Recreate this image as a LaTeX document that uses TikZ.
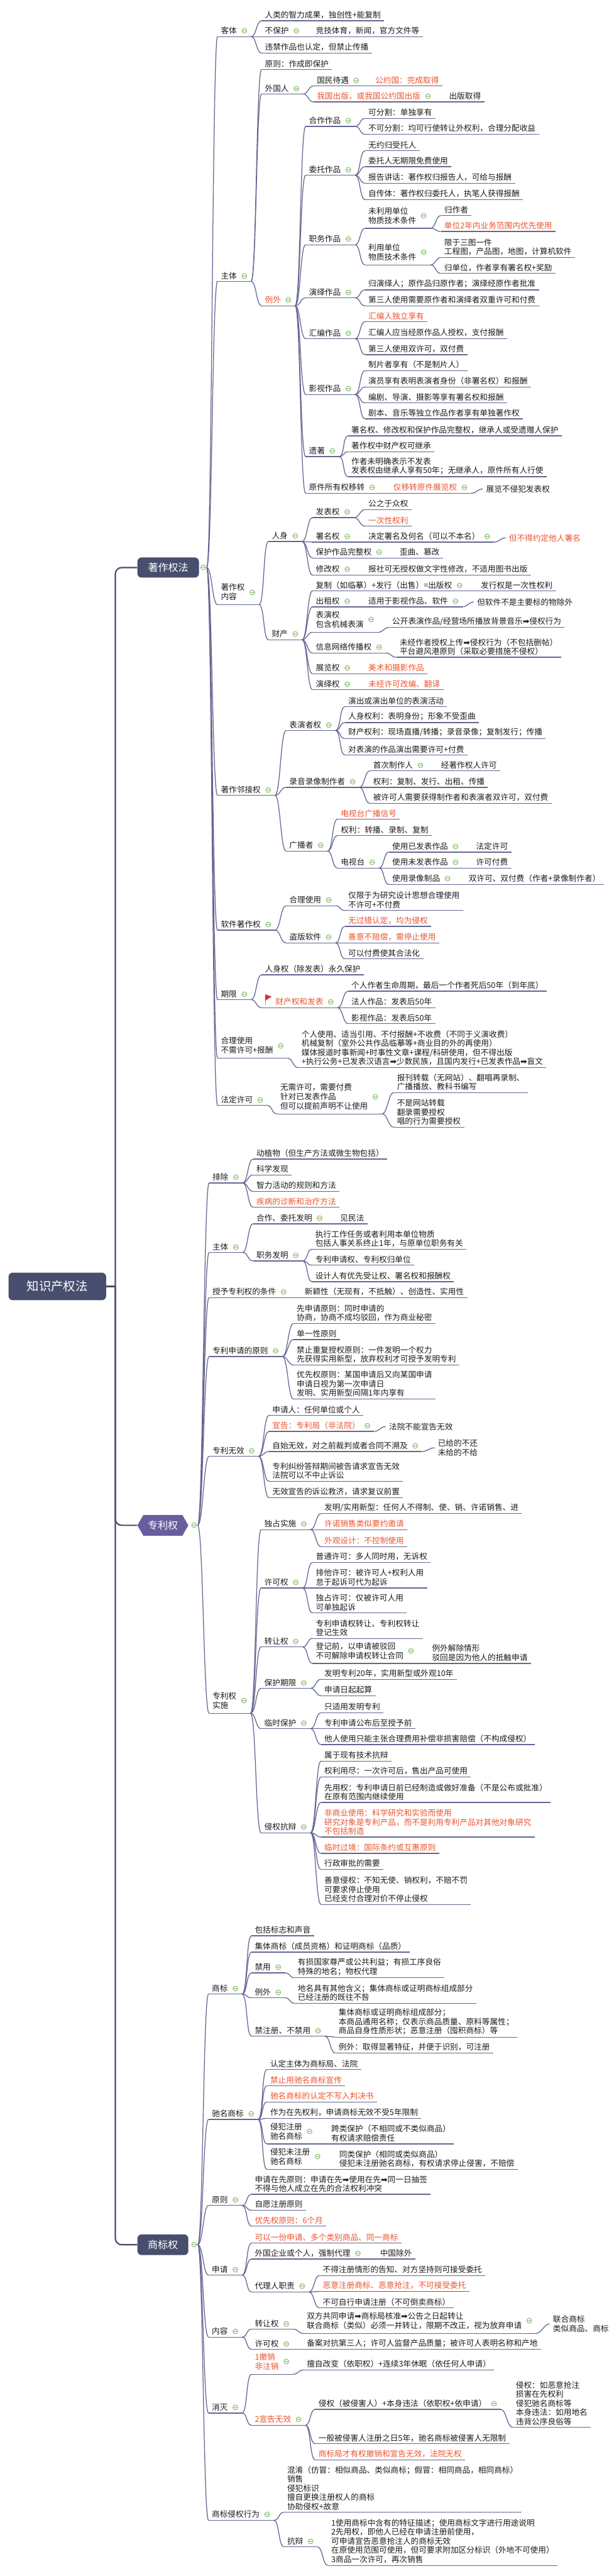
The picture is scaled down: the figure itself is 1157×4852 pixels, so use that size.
\documentclass[tikz,border=0pt]{standalone}
\usepackage{fontspec}
\setmainfont{Noto Sans CJK SC}
\newfontfamily\symfont{DejaVu Sans}
\usetikzlibrary{shapes.symbols}

\definecolor{navyc}{RGB}{72,78,110}
\definecolor{hexc}{RGB}{103,94,158}
\definecolor{linec}{RGB}{100,102,146}
\definecolor{hotred}{RGB}{234,84,45}
\definecolor{inkc}{RGB}{28,28,28}
\definecolor{foldgreen}{RGB}{112,176,82}
\definecolor{flagred}{RGB}{222,45,45}

\newcommand\txtsz{\fontsize{7.5pt}{8.6pt}\selectfont}
\newcommand\hubsz{\fontsize{9.5pt}{11pt}\selectfont}
\newcommand\rootsz{\fontsize{11.5pt}{13pt}\selectfont}
\newcommand\foldmk{\hspace{4pt}{\symfont\color{foldgreen}⊖}}
\newcommand\twol[1]{\begin{tabular}{@{}l@{}}#1\end{tabular}}
\newcommand\rarr{{\symfont ➡}}

\begin{document}
\begin{tikzpicture}[
  x=0.5pt, y=-0.5pt,
  hub/.style={rounded corners=4pt, fill=navyc, text=white, font=\hubsz, inner sep=3pt},
  hexa/.style={shape=signal, signal to=west and east, signal pointer angle=120, fill=hexc, text=white, font=\hubsz, inner sep=3pt},
  uline/.style={draw=linec, line width=0.75pt},
  topic/.style={anchor=south west, inner xsep=3pt, inner ysep=1.8pt, font=\txtsz, text=inkc, align=left,
    append after command={(\tikzlastnode.south west) edge[uline] (\tikzlastnode.south east)}},
  aside/.style={anchor=west, inner xsep=3pt, inner ysep=1pt, font=\txtsz, text=inkc, align=left},
  hot/.style={text=hotred},
  fold/.style={inner sep=0pt, font=\symfont\txtsz, text=foldgreen},
  link/.style={draw=linec, line width=0.75pt},
  curvy/.style={out=0, in=180, distance=5pt},
  trunk/.style={draw=navyc, line width=1.3pt, rounded corners=6pt},
]
\useasboundingbox (0,0) rectangle (1157,4852);
\fill[white] (0,0) rectangle (1157,4852);

% Root
\node[hub, minimum width=92pt, minimum height=26pt, font=\rootsz] (kz) at (108,2423) {知识产权法};
\coordinate (kzj) at ([xshift=8.5pt]kz.east);

% 著作权法
\node[hub, minimum width=58pt, minimum height=19pt] (zz) at (317,1069) {著作权法};
\node[fold] (zzf) at (383,1069) {⊖};

% 客体
\node[topic] (zkt) at (410,69) {客体\foldmk};
\node[topic] (zkt1) at (493,39) {人类的智力成果，独创性+能复制};
\node[topic] (zkt2) at (493,69) {不保护\foldmk};
\node[topic] (zkt2a) at (589,69) {竞技体育，新闻，官方文件等};
\node[topic] (zkt3) at (493,100) {违禁作品也认定，但禁止传播};

% 主体
\node[topic] (zzt) at (410,530) {主体\foldmk};
\node[topic] (zzt1) at (493,131) {原则：作成即保护};
\node[topic] (zzt2) at (493,177) {外国人\foldmk};
\node[topic] (zzt2a) at (591,162) {国民待遇\foldmk};
\node[topic, hot] (zzt2a1) at (701,162) {公约国：完成取得};
\node[topic, hot] (zzt2b) at (591,192) {我国出版，或我国公约国出版\foldmk};
\node[topic] (zzt2b1) at (840,192) {出版取得};
\node[topic, hot] (zzt3) at (493,576) {例外\foldmk};
\node[topic] (zhz) at (576,238) {合作作品\foldmk};
\node[topic] (zhz1) at (688,223) {可分割：单独享有};
\node[topic] (zhz2) at (688,253) {不可分割：均可行使转让外权利，合理分配收益};
\node[topic] (zwt) at (576,330) {委托作品\foldmk};
\node[topic] (zwt1) at (688,284) {无约归受托人};
\node[topic] (zwt2) at (688,314) {委托人无期限免费使用};
\node[topic] (zwt3) at (688,345) {报告讲话：著作权归报告人，可给与报酬};
\node[topic] (zwt4) at (688,376) {自传体：著作权归委托人，执笔人获得报酬};
\node[topic] (zzw) at (576,461) {职务作品\foldmk};
\node[topic] (zzw1) at (688,430) {\twol{未利用单位\\物质技术条件}\foldmk};
\node[topic] (zzw1a) at (831,406) {归作者};
\node[topic, hot] (zzw1b) at (831,436) {单位2年内业务范围内优先使用};
\node[topic] (zzw2) at (688,499) {\twol{利用单位\\物质技术条件}\foldmk};
\node[topic] (zzw2a) at (831,485) {限于三图一件\\工程图，产品图，地图，计算机软件};
\node[topic] (zzw2b) at (831,515) {归单位，作者享有署名权+奖励};
\node[topic] (zyy) at (576,561) {演绎作品\foldmk};
\node[topic] (zyy1) at (688,546) {归演绎人；原作品归原作者；演绎经原作者批准};
\node[topic] (zyy2) at (688,576) {第三人使用需要原作者和演绎者双重许可和付费};
\node[topic] (zhb) at (576,638) {汇编作品\foldmk};
\node[topic, hot] (zhb1) at (688,606) {汇编人独立享有};
\node[topic] (zhb2) at (688,638) {汇编人应当经原作品人授权，支付报酬};
\node[topic] (zhb3) at (688,668) {第三人使用双许可，双付费};
\node[topic] (zys) at (576,743) {影视作品\foldmk};
\node[topic] (zys1) at (688,698) {制片者享有（不是制片人）};
\node[topic] (zys2) at (688,729) {演员享有表明表演者身份（非署名权）和报酬};
\node[topic] (zys3) at (688,759) {编剧、导演、摄影等享有署名权和报酬};
\node[topic] (zys4) at (688,789) {剧本、音乐等独立作品作者享有单独著作权};
\node[topic] (zyz) at (576,860) {遗著\foldmk};
\node[topic] (zyz1) at (656,821) {署名权、修改权和保护作品完整权，继承人或受遗赠人保护};
\node[topic] (zyz2) at (656,851) {著作权中财产权可继承};
\node[topic] (zyz3) at (656,898) {作者未明确表示不发表\\发表权由继承人享有50年；无继承人，原件所有人行使};
\node[topic] (zyj) at (576,929) {原件所有权移转\foldmk};
\node[topic, hot] (zyj1) at (735,929) {仅移转原件展览权\foldmk};
\node[aside] (zyj1a) at (910,921) {展览不侵犯发表权};

% 著作权内容
\node[topic] (znr) at (410,1139) {\twol{著作权\\内容}\foldmk};
\node[topic] (zrs) at (506,1020) {人身\foldmk};
\node[topic] (zrs1) at (589,975) {发表权\foldmk};
\node[topic] (zrs1a) at (688,960) {公之于众权};
\node[topic, hot] (zrs1b) at (688,991) {一次性权利};
\node[topic] (zrs2) at (589,1021) {署名权\foldmk};
\node[topic] (zrs2a) at (688,1021) {决定署名及何名（可以不本名）\foldmk};
\node[aside, hot] (zrs2b) at (953,1013) {但不得约定他人署名};
\node[topic] (zrs3) at (589,1051) {保护作品完整权\foldmk};
\node[topic] (zrs3a) at (747,1051) {歪曲、篡改};
\node[topic] (zrs4) at (589,1083) {修改权\foldmk};
\node[topic] (zrs4a) at (688,1083) {报社可无授权做文字性修改，不适用图书出版};
\node[topic] (zcc) at (506,1205) {财产\foldmk};
\node[topic] (zcc1) at (589,1113) {复制（如临摹）+发行（出售）=出版权\foldmk};
\node[topic] (zcc1a) at (900,1113) {发行权是一次性权利};
\node[topic] (zcc2) at (589,1143) {出租权\foldmk};
\node[topic] (zcc2a) at (688,1143) {适用于影视作品、软件\foldmk};
\node[aside] (zcc2b) at (893,1134) {但软件不是主要标的物除外};
\node[topic] (zcc3) at (589,1191) {\twol{表演权\\包含机械表演}\foldmk};
\node[topic] (zcc3a) at (733,1182) {公开表演作品/经营场所播放背景音乐\rarr 侵权行为};
\node[topic] (zcc4) at (589,1230) {信息网络传播权\foldmk};
\node[topic] (zcc4a) at (747,1238) {未经作者授权上传\rarr 侵权行为（不包括删帖）\\平台避风港原则（采取必要措施不侵权）};
\node[topic] (zcc5) at (589,1269) {展览权\foldmk};
\node[topic, hot] (zcc5a) at (688,1269) {美术和摄影作品};
\node[topic] (zcc6) at (589,1299) {演绎权\foldmk};
\node[topic, hot] (zcc6a) at (688,1299) {未经许可改编、翻译};

% 著作邻接权
\node[topic] (zlj) at (410,1498) {著作邻接权\foldmk};
\node[topic] (zbw) at (539,1376) {表演者权\foldmk};
\node[topic] (zbw1) at (650,1331) {演出或演出单位的表演活动};
\node[topic] (zbw2) at (650,1361) {人身权利：表明身份；形象不受歪曲};
\node[topic] (zbw3) at (650,1391) {财产权利：现场直播/转播；录音录像；复制发行；传播};
\node[topic] (zbw4) at (650,1422) {对表演的作品演出需要许可+付费};
\node[topic] (zly) at (539,1483) {录音录像制作者\foldmk};
\node[topic] (zly1) at (697,1452) {首次制作人\foldmk};
\node[topic] (zly1a) at (825,1452) {经著作权人许可};
\node[topic] (zly2) at (697,1483) {权利：复制、发行、出租、传播};
\node[topic] (zly3) at (697,1513) {被许可人需要获得制作者和表演者双许可，双付费};
\node[topic] (zgb) at (539,1603) {广播者\foldmk};
\node[topic, hot] (zgb1) at (636,1543) {电视台广播信号};
\node[topic] (zgb2) at (636,1574) {权利：转播、录制、复制};
\node[topic] (zgb3) at (636,1635) {电视台\foldmk};
\node[topic] (zgb3a) at (733,1605) {使用已发表作品\foldmk};
\node[topic] (zgb3a1) at (891,1605) {法定许可};
\node[topic] (zgb3b) at (733,1635) {使用未发表作品\foldmk};
\node[topic] (zgb3b1) at (891,1635) {许可付费};
\node[topic] (zgb3c) at (733,1666) {使用录像制品\foldmk};
\node[topic] (zgb3c1) at (877,1666) {双许可、双付费（作者+录像制作者）};

% 软件著作权
\node[topic] (zrj) at (410,1752) {软件著作权\foldmk};
\node[topic] (zrj1) at (539,1706) {合理使用\foldmk};
\node[topic] (zrj1a) at (650,1715) {仅限于为研究设计思想合理使用\\不许可+不付费};
\node[topic] (zrj2) at (539,1776) {盗版软件\foldmk};
\node[topic, hot] (zrj2a) at (650,1745) {无过错认定，均为侵权};
\node[topic, hot] (zrj2b) at (650,1776) {善意不赔偿，需停止使用};
\node[topic] (zrj2c) at (650,1806) {可以付费使其合法化};

% 期限
\node[topic] (zqx) at (410,1883) {期限\foldmk};
\node[topic] (zqx1) at (493,1836) {人身权（除发表）永久保护};
\node[topic, hot] (zqx2) at (493,1898) {\hspace*{10pt}财产权和发表\foldmk};
\draw[gray!70, line width=0.6pt] ([xshift=3.5pt]zqx2.south west) ++(0,-4) -- ++(0,-21);
\fill[flagred] ([xshift=3.5pt]zqx2.south west) ++(0,-25) -- ++(12,4) -- ++(-12,8) -- cycle;
\node[topic] (zqx2a) at (656,1867) {个人作者生命周期，最后一个作者死后50年（到年底）};
\node[topic] (zqx2b) at (656,1898) {法人作品：发表后50年};
\node[topic] (zqx2c) at (656,1928) {影视作品：发表后50年};

% 合理使用, 法定许可
\node[topic] (zhl) at (410,1993) {\twol{合理使用\\不需许可+报酬}\foldmk};
\node[topic] (zhl1) at (562,2011) {个人使用、适当引用、不付报酬+不收费（不同于义演收费）\\机械复制（室外公共作品临摹等+商业目的外的再使用）\\媒体报道时事新闻+时事性文章+课程/科研使用，但不得出版\\+执行公务+已发表汉语言\rarr 少数民族，且国内发行+已发表作品\rarr 盲文};
\node[topic] (zfd) at (410,2082) {法定许可\foldmk};
\node[topic] (zfd1) at (522,2098) {\twol{无需许可，需要付费\\针对已发表作品\\但可以提前声明不让使用}\foldmk};
\node[topic] (zfd1a) at (742,2058) {报刊转载（无网站）、翻唱再录制、\\广播播放、教科书编写};
\node[topic] (zfd1b) at (742,2123) {不是网站转载\\翻录需要授权\\唱的行为需要授权};

% 专利权
\node[hexa, minimum width=48pt, minimum height=19.5pt] (zl) at (307,2873) {专利权};
\node[fold] (zlf) at (366,2873) {⊖};
\node[topic] (zpc) at (394,2228) {排除\foldmk};
\node[topic] (zpc1) at (477,2183) {动植物（但生产方法或微生物包括）};
\node[topic] (zpc2) at (477,2213) {科学发现};
\node[topic] (zpc3) at (477,2244) {智力活动的规则和方法};
\node[topic, hot] (zpc4) at (477,2274) {疾病的诊断和治疗方法};
\node[topic] (zpz) at (394,2359) {主体\foldmk};
\node[topic] (zpz1) at (477,2305) {合作、委托发明\foldmk};
\node[topic] (zpz1a) at (635,2305) {见民法};
\node[topic] (zpz2) at (477,2375) {职务发明\foldmk};
\node[topic] (zpz2a) at (588,2353) {执行工作任务或者利用本单位物质\\包括人事关系终止1年，与原单位职务有关};
\node[topic] (zpz2b) at (588,2383) {专利申请权、专利权归单位};
\node[topic] (zpz2c) at (588,2414) {设计人有优先受让权、署名权和报酬权};
\node[topic] (zpt) at (394,2444) {授予专利权的条件\foldmk};
\node[topic] (zpt1) at (568,2444) {新颖性（无现有，不抵触）、创造性、实用性};
\node[topic] (zpy) at (394,2555) {专利申请的原则\foldmk};
\node[topic] (zpy1) at (553,2493) {先申请原则：同时申请的\\协商，协商不成均驳回，作为商业秘密};
\node[topic] (zpy2) at (553,2523) {单一性原则};
\node[topic] (zpy3) at (553,2571) {禁止重复授权原则：一件发明一个权力\\先获得实用新型，放弃权利才可授予发明专利};
\node[topic] (zpy4) at (553,2635) {优先权原则：某国申请后又向某国申请\\申请日视为第一次申请日\\发明、实用新型间隔1年内享有};
\node[topic] (zpw) at (394,2743) {专利无效\foldmk};
\node[topic] (zpw1) at (507,2666) {申请人：任何单位或个人};
\node[topic, hot] (zpw2) at (507,2696) {宣告：专利局（非法院）\foldmk};
\node[aside] (zpw2a) at (727,2687) {法院不能宣告无效};
\node[topic] (zpw3) at (507,2734) {自始无效，对之前裁判或者合同不溯及\foldmk};
\node[aside] (zpw3a) at (819,2727) {已给的不还\\未给的不给};
\node[topic] (zpw4) at (507,2790) {专利纠纷答辩期间被告请求宣告无效\\法院可以不中止诉讼};
\node[topic] (zpw5) at (507,2821) {无效宣告的诉讼救济，请求复议前置};
\node[topic] (zps) at (394,3227) {\twol{专利权\\实施}\foldmk};
\node[topic] (zps1) at (492,2881) {独占实施\foldmk};
\node[topic] (zps1a) at (605,2851) {发明/实用新型：任何人不得制、使、销、许诺销售、进};
\node[topic, hot] (zps1b) at (605,2881) {许诺销售类似要约邀请};
\node[topic, hot] (zps1c) at (605,2913) {外观设计：不控制使用};
\node[topic] (zps2) at (492,2991) {许可权\foldmk};
\node[topic] (zps2a) at (589,2943) {普通许可：多人同时用，无诉权};
\node[topic] (zps2b) at (589,2991) {排他许可：被许可人+权利人用\\怠于起诉可代为起诉};
\node[topic] (zps2c) at (589,3038) {独占许可：仅被许可人用\\可单独起诉};
\node[topic] (zps3) at (492,3102) {转让权\foldmk};
\node[topic] (zps3a) at (589,3086) {专利申请权转让、专利权转让\\登记生效};
\node[topic] (zps3b) at (589,3133) {\twol{登记前，以申请被驳回\\不可解除申请权转让合同}\foldmk};
\node[topic] (zps3b1) at (808,3133) {例外解除情形\\驳回是因为他人的抵触申请};
\node[topic] (zps4) at (492,3180) {保护期限\foldmk};
\node[topic] (zps4a) at (605,3163) {发明专利20年，实用新型或外观10年};
\node[topic] (zps4b) at (605,3194) {申请日起起算};
\node[topic] (zps5) at (492,3256) {临时保护\foldmk};
\node[topic] (zps5a) at (605,3226) {只适用发明专利};
\node[topic] (zps5b) at (605,3256) {专利申请公布后至授予前};
\node[topic] (zps5c) at (605,3286) {他人使用只能主张合理费用补偿非损害赔偿（不构成侵权）};
\node[topic] (zps6) at (492,3452) {侵权抗辩\foldmk};
\node[topic] (zps6a) at (605,3317) {属于现有技术抗辩};
\node[topic] (zps6b) at (605,3347) {权利用尽：一次许可后，售出产品可使用};
\node[topic] (zps6c) at (605,3395) {先用权：专利申请日前已经制造或做好准备（不是公布或批准）\\在原有范围内继续使用};
\node[topic, hot] (zps6d) at (605,3460) {非商业使用：科学研究和实验而使用\\研究对象是专利产品，而不是利用专利产品对其他对象研究\\不包括制造};
\node[topic, hot] (zps6e) at (605,3491) {临时过境：国际条约或互惠原则};
\node[topic] (zps6f) at (605,3521) {行政审批的需要};
\node[topic] (zps6g) at (605,3587) {善意侵权：不知无使、销权利，不赔不罚\\可要求停止使用\\已经支付合理对价不停止侵权};

% 商标权
\node[hub, minimum width=48pt, minimum height=19.5pt] (zs) at (307,4228) {商标权};
\node[fold] (zsf) at (366,4228) {⊖};
\node[topic] (zsb) at (393,3756) {商标\foldmk};
\node[topic] (zsb1) at (474,3646) {包括标志和声音};
\node[topic] (zsb2) at (474,3677) {集体商标（成员资格）和证明商标（品质）};
\node[topic] (zsb3) at (474,3716) {禁用\foldmk};
\node[topic] (zsb3a) at (555,3725) {有损国家尊严或公共利益；有损工序良俗\\特殊的地名；物权代理};
\node[topic] (zsb4) at (474,3763) {例外\foldmk};
\node[topic] (zsb4a) at (555,3773) {地名具有其他含义；集体商标或证明商标组成部分\\已经注册的既往不咎};
\node[topic] (zsb5) at (474,3835) {禁注册、不禁用\foldmk};
\node[topic] (zsb5a) at (632,3837) {集体商标或证明商标组成部分；\\本商品通用名称；仅表示商品质量、原料等属性；\\商品自身性质形状；恶意注册（囤积商标）等};
\node[topic] (zsb5b) at (632,3867) {例外：取得显著特征，并便于识别，可注册};
\node[topic] (zcm) at (393,3992) {驰名商标\foldmk};
\node[topic] (zcm1) at (503,3898) {认定主体为商标局、法院};
\node[topic, hot] (zcm2) at (503,3929) {禁止用驰名商标宣传};
\node[topic, hot] (zcm3) at (503,3959) {驰名商标的认定不写入判决书};
\node[topic] (zcm4) at (503,3990) {作为在先权利，申请商标无效不受5年限制};
\node[topic] (zcm5) at (503,4038) {\twol{侵犯注册\\驰名商标}\foldmk};
\node[topic] (zcm5a) at (618,4038) {跨类保护（不相同或不类似商品）\\有权请求赔偿责任};
\node[topic] (zcm6) at (503,4086) {\twol{侵犯未注册\\驰名商标}\foldmk};
\node[topic] (zcm6a) at (633,4086) {同类保护（相同或类似商品）\\侵犯未注册驰名商标，有权请求停止侵害，不赔偿};
\node[topic] (zsy) at (393,4154) {原则\foldmk};
\node[topic] (zsy1) at (474,4133) {申请在先原则：申请在先\rarr 使用在先\rarr 同一日抽签\\不得与他人成立在先的合法权利冲突};
\node[topic] (zsy2) at (474,4163) {自愿注册原则};
\node[topic, hot] (zsy3) at (474,4193) {优先权原则：6个月};
\node[topic] (zsq) at (393,4285) {申请\foldmk};
\node[topic, hot] (zsq1) at (474,4225) {可以一份申请、多个类别商品、同一商标};
\node[topic] (zsq2) at (474,4255) {外国企业或个人，强制代理\foldmk};
\node[topic] (zsq2a) at (710,4255) {中国除外};
\node[topic] (zsq3) at (474,4317) {代理人职责\foldmk};
\node[topic] (zsq3a) at (602,4286) {不得注册情形的告知、对方坚持则可接受委托};
\node[topic, hot] (zsq3b) at (602,4316) {恶意注册商标、恶意抢注，不可接受委托};
\node[topic] (zsq3c) at (602,4347) {不可自行申请注册（不可倒卖商标）};
\node[topic] (zsn) at (393,4402) {内容\foldmk};
\node[topic] (zsn1) at (474,4387) {转让权\foldmk};
\node[topic] (zsn1a) at (572,4395) {\twol{双方共同申请\rarr 商标局核准\rarr 公告之日起转让\\联合商标（类似）必须一并转让，限期不改正，视为放弃申请}\foldmk};
\node[aside] (zsn1b) at (1036,4377) {联合商标\\类似商品、商标};
\node[topic] (zsn2) at (474,4425) {许可权\foldmk};
\node[topic] (zsn2a) at (572,4425) {备案对抗第三人；许可人监督产品质量；被许可人表明名称和产地};
\node[topic] (zsm) at (393,4545) {消灭\foldmk};
\node[topic, hot] (zsm1) at (474,4472) {\twol{1撤销\\非注销}\foldmk};
\node[topic] (zsm1a) at (572,4464) {擅自改变（依职权）+连续3年休眠（依任何人申请）};
\node[topic, hot] (zsm2) at (474,4568) {2宣告无效\foldmk};
\node[topic] (zsm2a) at (594,4538) {侵权（被侵害人）+本身违法（依职权+依申请）\foldmk};
\node[topic] (zsm2a1) at (966,4572) {侵权：如恶意抢注\\损害在先权利\\侵犯驰名商标等\\本身违法：如用地名\\违背公序良俗等};
\node[topic] (zsm2b) at (594,4603) {一般被侵害人注册之日5年，驰名商标被侵害人无限制};
\node[topic, hot] (zsm2c) at (594,4633) {商标局才有权撤销和宣告无效，法院无权};
\node[topic] (zsx) at (393,4747) {商标侵权行为\foldmk};
\node[topic] (zsx1) at (535,4732) {混淆（仿冒：相似商品、类似商标；假冒：相同商品，相同商标）\\销售\\侵犯标识\\擅自更换注册权人的商标\\协助侵权+故意};
\node[topic] (zsx2) at (535,4797) {抗辩\foldmk};
\node[topic] (zsx2a) at (618,4832) {1使用商标中含有的特征描述；使用商标文字进行用途说明\\2先用权，即他人已经在申请注册前使用，\\可申请宣告恶意抢注人的商标无效\\在原使用范围可使用，但可要求附加区分标识（外地不可使用）\\3商品一次许可，再次销售};

% Root trunk
\draw[trunk] (kz.east) -- (kzj);
\draw[trunk] (kzj) |- (zz.west);
\draw[trunk] (kzj) |- (zl.west);
\draw[trunk] (kzj) |- (zs.west);

% Hub links
\foreach \c in {zkt,zzt,znr,zlj,zrj,zqx,zhl,zfd}
  \draw[link] (zzf.east) to[curvy] (\c.south west);
\foreach \c in {zpc,zpz,zpt,zpy,zpw,zps}
  \draw[link] (zlf.east) to[curvy] (\c.south west);
\foreach \c in {zsb,zcm,zsy,zsq,zsn,zsm,zsx}
  \draw[link] (zsf.east) to[curvy] (\c.south west);

% 著作权法 links
\foreach \p/\c in {zkt/zkt1,zkt/zkt2,zkt/zkt3,zkt2/zkt2a,
  zzt/zzt1,zzt/zzt2,zzt/zzt3,zzt2/zzt2a,zzt2/zzt2b,zzt2a/zzt2a1,zzt2b/zzt2b1,
  zzt3/zhz,zzt3/zwt,zzt3/zzw,zzt3/zyy,zzt3/zhb,zzt3/zys,zzt3/zyz,zzt3/zyj,
  zhz/zhz1,zhz/zhz2,zwt/zwt1,zwt/zwt2,zwt/zwt3,zwt/zwt4,
  zzw/zzw1,zzw/zzw2,zzw1/zzw1a,zzw1/zzw1b,zzw2/zzw2a,zzw2/zzw2b,
  zyy/zyy1,zyy/zyy2,zhb/zhb1,zhb/zhb2,zhb/zhb3,
  zys/zys1,zys/zys2,zys/zys3,zys/zys4,zyz/zyz1,zyz/zyz2,zyz/zyz3,zyj/zyj1,
  znr/zrs,znr/zcc,zrs/zrs1,zrs/zrs2,zrs/zrs3,zrs/zrs4,
  zrs1/zrs1a,zrs1/zrs1b,zrs2/zrs2a,zrs3/zrs3a,zrs4/zrs4a,
  zcc/zcc1,zcc/zcc2,zcc/zcc3,zcc/zcc4,zcc/zcc5,zcc/zcc6,
  zcc1/zcc1a,zcc2/zcc2a,zcc3/zcc3a,zcc4/zcc4a,zcc5/zcc5a,zcc6/zcc6a,
  zlj/zbw,zlj/zly,zlj/zgb,zbw/zbw1,zbw/zbw2,zbw/zbw3,zbw/zbw4,
  zly/zly1,zly/zly2,zly/zly3,zly1/zly1a,
  zgb/zgb1,zgb/zgb2,zgb/zgb3,zgb3/zgb3a,zgb3/zgb3b,zgb3/zgb3c,
  zgb3a/zgb3a1,zgb3b/zgb3b1,zgb3c/zgb3c1,
  zrj/zrj1,zrj/zrj2,zrj1/zrj1a,zrj2/zrj2a,zrj2/zrj2b,zrj2/zrj2c,
  zqx/zqx1,zqx/zqx2,zqx2/zqx2a,zqx2/zqx2b,zqx2/zqx2c,
  zhl/zhl1,zfd/zfd1,zfd1/zfd1a,zfd1/zfd1b}
  \draw[link] (\p.south east) to[curvy] (\c.south west);

% 专利权 links
\foreach \p/\c in {zpc/zpc1,zpc/zpc2,zpc/zpc3,zpc/zpc4,
  zpz/zpz1,zpz/zpz2,zpz1/zpz1a,zpz2/zpz2a,zpz2/zpz2b,zpz2/zpz2c,
  zpt/zpt1,zpy/zpy1,zpy/zpy2,zpy/zpy3,zpy/zpy4,
  zpw/zpw1,zpw/zpw2,zpw/zpw3,zpw/zpw4,zpw/zpw5,
  zps/zps1,zps/zps2,zps/zps3,zps/zps4,zps/zps5,zps/zps6,
  zps1/zps1a,zps1/zps1b,zps1/zps1c,zps2/zps2a,zps2/zps2b,zps2/zps2c,
  zps3/zps3a,zps3/zps3b,zps3b/zps3b1,zps4/zps4a,zps4/zps4b,
  zps5/zps5a,zps5/zps5b,zps5/zps5c,
  zps6/zps6a,zps6/zps6b,zps6/zps6c,zps6/zps6d,zps6/zps6e,zps6/zps6f,zps6/zps6g}
  \draw[link] (\p.south east) to[curvy] (\c.south west);

% 商标权 links
\foreach \p/\c in {zsb/zsb1,zsb/zsb2,zsb/zsb3,zsb/zsb4,zsb/zsb5,
  zsb3/zsb3a,zsb4/zsb4a,zsb5/zsb5a,zsb5/zsb5b,
  zcm/zcm1,zcm/zcm2,zcm/zcm3,zcm/zcm4,zcm/zcm5,zcm/zcm6,zcm5/zcm5a,zcm6/zcm6a,
  zsy/zsy1,zsy/zsy2,zsy/zsy3,
  zsq/zsq1,zsq/zsq2,zsq/zsq3,zsq2/zsq2a,zsq3/zsq3a,zsq3/zsq3b,zsq3/zsq3c,
  zsn/zsn1,zsn/zsn2,zsn1/zsn1a,zsn2/zsn2a,
  zsm/zsm1,zsm/zsm2,zsm1/zsm1a,zsm2/zsm2a,zsm2/zsm2b,zsm2/zsm2c,zsm2a/zsm2a1,
  zsx/zsx1,zsx/zsx2,zsx2/zsx2a}
  \draw[link] (\p.south east) to[curvy] (\c.south west);

% side notes
\foreach \p/\c in {zyj1/zyj1a,zrs2a/zrs2b,zcc2a/zcc2b,zpw2/zpw2a,zpw3/zpw3a,zsn1a/zsn1b}
  \draw[link] (\p.south east) to[curvy] (\c.west);
\end{tikzpicture}
\end{document}
